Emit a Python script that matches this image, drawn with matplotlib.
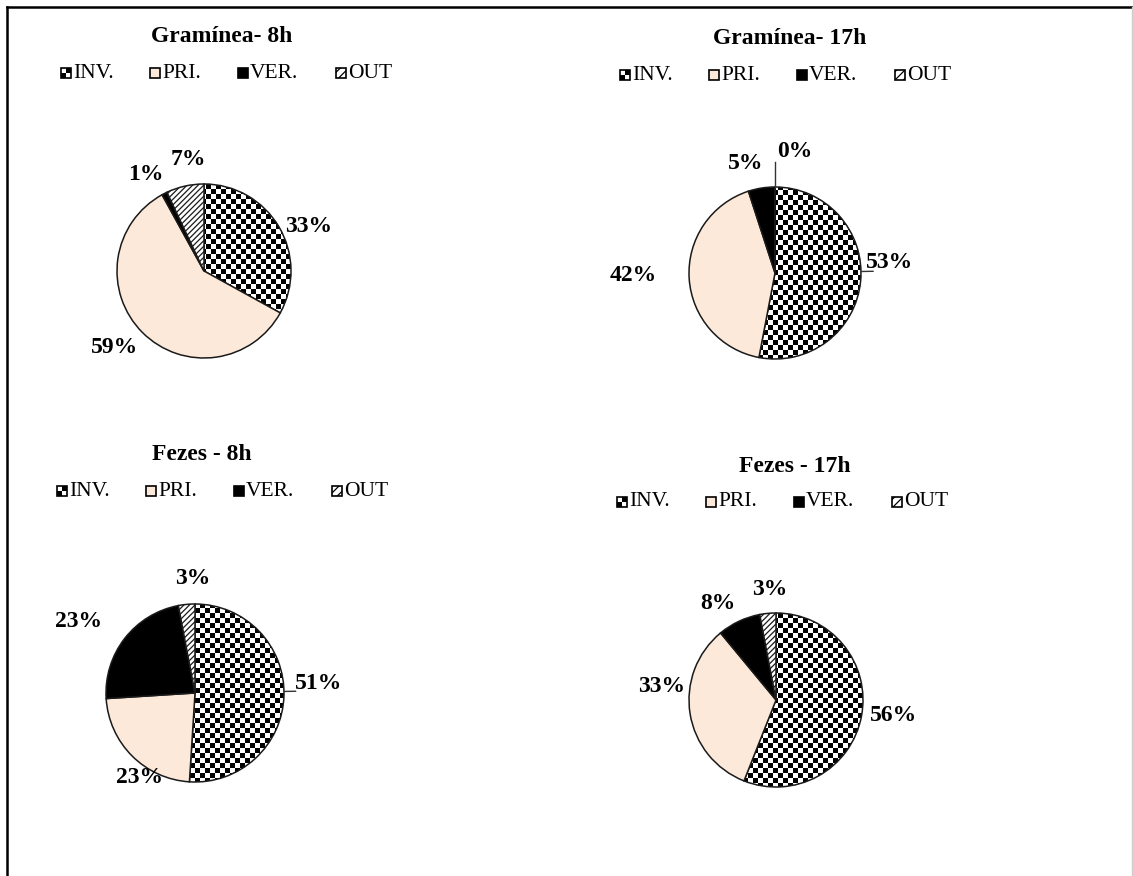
import numpy as np
import matplotlib
matplotlib.use("Agg")
import matplotlib.pyplot as plt
import matplotlib.patches as patches
from matplotlib.lines import Line2D

# Data
titles = ["Gramínea- 8h", "Gramínea- 17h", "Fezes - 8h", "Fezes - 17h"]
categories = ["INV.", "PRI.", "VER.", "OUT"]
gram_8h = [33, 59, 1, 7]
gram_17h = [53, 42, 5, 0]
fezes_8h = [51, 23, 23, 3]
fezes_17h = [56, 33, 8, 3]
series = [gram_8h, gram_17h, fezes_8h, fezes_17h]

# Layout in pixels (y measured from the top)
W, H = 1133, 876
centers = [(204, 271), (775, 273), (195, 693), (776, 700)]
radii = [87, 86, 89, 87]
title_pos = [(222, 37), (790, 39), (202, 455), (795, 466)]
legend_pos = [(61, 73), (620, 75), (57, 491), (617, 502)]
legend_steps = [0, 89, 177, 275]
label_nudge = [[-7.7, -4.4, 4, -4.6], [10.4, -2.4, 5.8, -9.4],
               [6.4, 11.8, 6.2, -4.4], [3.5, -15.5, 5.8, -2.4]]
label_dist = [[1.30, 1.36, 1.30, 1.29], [1.34, 1.65, 1.32, 1.43],
              [1.39, 1.13, 1.54, 1.29], [1.36, 1.32, 1.30, 1.27]]
# leader lines: (chart, wedge) -> (angle, outer radius factor)
leaders = {(1, 0): (1, 1.14), (1, 3): (90, 1.29), (2, 0): (1, 1.13)}

peach = "#FDE9D9"
colors = ["none", peach, "black", "white"]
hatches = [None, None, None, "//////"]

plt.rcParams["font.family"] = ["Liberation Serif", "DejaVu Serif"]
plt.rcParams["hatch.linewidth"] = 0.9
plt.rcParams["hatch.color"] = "black"

fig = plt.figure(figsize=(W / 100, H / 100), dpi=100)
ax = fig.add_axes([0, 0, 1, 1])


def checker(x0, y0, size, clip, cell=5):
    # black and white checkerboard clipped to a patch
    n = int(np.ceil(size))
    i, j = np.indices((n, n))
    board = ((i // cell + j // cell) % 2).astype(float)
    im = ax.imshow(board, cmap="gray", interpolation="nearest",
                   extent=(x0, x0 + n, y0, y0 + n), zorder=0.5,
                   origin="lower")
    im.set_clip_path(clip)
    return im


for k, values in enumerate(series):
    cx, cy = centers[k]
    cy = H - cy
    r = radii[k]
    wedges, _ = ax.pie(values, startangle=90, counterclock=False,
                       center=(cx, cy), radius=r, colors=colors,
                       hatch=hatches,
                       wedgeprops=dict(edgecolor="#1a1a1a", linewidth=1.1))
    for w in wedges:
        w.set_zorder(1)
    checker(cx - r - 1, cy - r - 1, 2 * r + 2, wedges[0])

    for m, w in enumerate(wedges):
        mid = (w.theta1 + w.theta2) / 2 + label_nudge[k][m]
        d = label_dist[k][m] * r
        tx = cx + d * np.cos(np.radians(mid))
        ty = cy + d * np.sin(np.radians(mid))
        ax.text(tx, ty, f"{values[m]}%", ha="center", va="center",
                fontsize=17, fontweight="bold", zorder=3)
        if (k, m) in leaders:
            ang, f = leaders[(k, m)]
            a = np.radians(ang)
            ax.plot([cx + r * np.cos(a), cx + f * r * np.cos(a)],
                    [cy + r * np.sin(a), cy + f * r * np.sin(a)],
                    color="#333333", lw=1.0, zorder=2)

    # title
    tx, ty = title_pos[k]
    ax.text(tx, H - ty, titles[k], ha="center", va="center",
            fontsize=17, fontweight="bold")

    # legend row
    lx, ly = legend_pos[k]
    ly = H - ly
    s = 10
    for m, name in enumerate(categories):
        x0 = lx + legend_steps[m]
        box = patches.Rectangle((x0, ly - s / 2), s, s,
                                facecolor=colors[m] if m else "none",
                                edgecolor="black", linewidth=1.2,
                                hatch="////" if m == 3 else None, zorder=2)
        ax.add_patch(box)
        if m == 0:
            checker(x0, ly - s / 2, s, box)
        ax.text(x0 + s + 2, ly, name, ha="left", va="center", fontsize=15.5)

# outer frame
fig.add_artist(Line2D([7 / W, 7 / W], [0, 1 - 7 / H], color="black", lw=1.8))
fig.add_artist(Line2D([7 / W, 1], [1 - 7 / H, 1 - 7 / H], color="black", lw=1.8))
fig.add_artist(Line2D([1 - 1 / W, 1 - 1 / W], [0, 1 - 7 / H], color="#cccccc", lw=1.0))

ax.set_xlim(0, W)
ax.set_ylim(0, H)
ax.set_aspect("auto")
ax.axis("off")

fig.savefig("out.png", dpi=100, facecolor="white")
